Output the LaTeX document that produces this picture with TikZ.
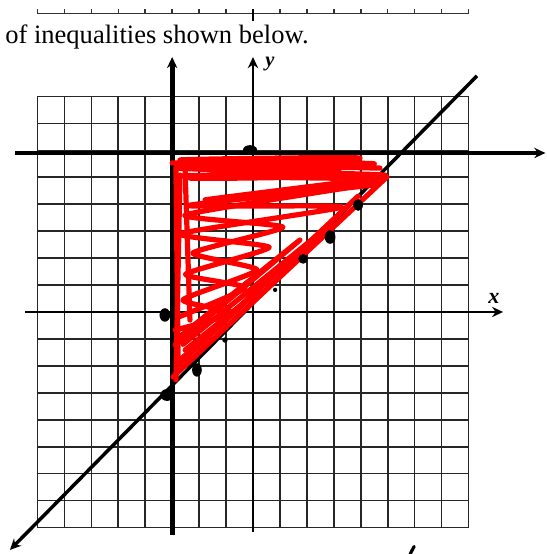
\documentclass[tikz,border=0pt]{standalone}
\usepackage{fontspec}
\setmainfont{Liberation Serif}
\usepackage{tikz}
\usetikzlibrary{calc, arrows.meta, positioning}

\begin{document}
\begin{tikzpicture}[>={Stealth[length=7pt, width=6.5pt]}, x=0.6cm, y=0.6cm,
    gridline/.style={black!85, line width=1pt},
    axisline/.style={->, line width=1.5pt},
    penline/.style={line width=3pt},
    scribble/.style={red, line width=3.3pt, line cap=round, line join=round},
    blob/.style={fill=black}]

    \useasboundingbox (-9.388,-8.980) rectangle (10.909,11.577);

    % =================================================================
    % 1. TRỤC SỐ Ở TRÊN VÀ DÒNG CHỮ
    % =================================================================
    \draw[line width=0.9pt, black!80] (-8,11.08) -- (8,11.08);
    \foreach \k in {-8,...,8}
        \draw[line width=0.9pt, black!80] (\k,11.08) -- (\k,11.24);
    \draw[line width=1.8pt] (0,10.80) -- (0,11.24);

    \node[anchor=base west, inner sep=0pt, font=\fontsize{16.8}{18}\selectfont]
        (title) at (-9.2,9.96) {of inequalities shown below.};

    % =================================================================
    % 2. LƯỚI VÀ HỆ TRỤC TỌA ĐỘ Oxy
    % =================================================================
    \foreach \k in {-8,...,8} {
        \draw[gridline] (\k,-8) -- (\k,8);
        \draw[gridline] (-8,\k) -- (8,\k);
    }

    \draw[axisline] (-8.46, 0) -- (9.28, 0);
    \draw[axisline] (0, -8.16) -- (0, 9.46);
    \node[font=\fontsize{14}{15}\selectfont\bfseries\itshape] (xlabel) at (8.94, 0.52) {x};
    \node[font=\fontsize{13}{14}\selectfont\bfseries\itshape] (ylabel) at (0.63, 9.22) {y};

    % =================================================================
    % 3. CÁC ĐƯỜNG THẲNG VẼ TAY
    % =================================================================
    \draw[penline, ->] (-3, -8.27) -- (-3, 9.46);
    \draw[penline, ->] (-8.83, 5.90) -- (10.85, 5.90);
    \draw[line width=2.2pt, ->] (8.31, 8.76) -- (-9.02, -8.83);

    % =================================================================
    % 4. MIỀN TÔ ĐỎ
    % =================================================================
    \draw[scribble] plot[smooth, tension=0.3] coordinates {(-3.0,5.53) (4.71,5.34) (-2.71,5.64)
        (3.97,5.71) (-2.34,4.97) (4.9,5.08) (-2.86,5.34) (4.5,5.5) (-1.5,5.6) (3.2,5.2)
        (-2.6,5.05) (4.2,4.95)};
    \draw[scribble] plot[smooth, tension=0.3] coordinates {(4.97,5.01) (-1.78,4.16) (4.6,4.8)
        (-2.52,3.60) (1.11,3.15) (-2.23,2.19) (0.15,1.56) (-2.60,0.45) (-0.74,-0.04) (-2.89,-0.67)};
    \draw[scribble] plot[smooth, tension=0.3] coordinates {(4.4,4.7) (-2.4,3.95) (3.3,3.9)
        (-2.7,2.9) (0.6,2.4) (-2.5,1.4) (-0.3,0.9) (-2.8,-0.2)};
    \draw[scribble] (-2.97,-2.41) -- (4.97,5.01);
    \draw[scribble] (-2.71,-1.78) -- (2.86,3.23) -- (-2.6,-1.2);
    \draw[scribble] (-2.89,-1.22) -- (1.74,2.67) -- (-2.7,-0.9);
    \draw[scribble] (-2.52,-1.41) -- (0.26,0.82);
    \draw[scribble] (-2.8,-2.0) -- (3.9,4.3);
    \draw[scribble] (-2.86,5.34) -- (-2.78,-1.78);
    \draw[scribble] (-2.52,5.27) -- (-2.34,-0.30);
    \draw[scribble] (-2.71,5.08) -- (-2.86,-2.52);

    % =================================================================
    % 5. CÁC CHẤM MỰC
    % =================================================================
    \fill[blob] (-0.11, 6.02) ellipse (0.26 and 0.17);
    \fill[blob] (-3.27, -0.11) ellipse (0.2 and 0.25);
    \fill[blob] (-3.19, -3.08) ellipse (0.25 and 0.22);
    \fill[blob] (-2.08, -2.15) ellipse (0.18 and 0.25);
    \fill[blob] (-1.04, -1.04) circle (0.1);
    \fill[blob] (0.82, 0.82) circle (0.08);
    \fill[blob] (1.86, 1.97) circle (0.18);
    \fill[blob] (2.86, 2.78) ellipse (0.2 and 0.25);
    \fill[blob] (3.90, 3.97) ellipse (0.18 and 0.22);
    \draw[line width=2pt, line cap=round] (5.83,-8.98) -- (5.98,-8.70);

\end{tikzpicture}
\end{document}
